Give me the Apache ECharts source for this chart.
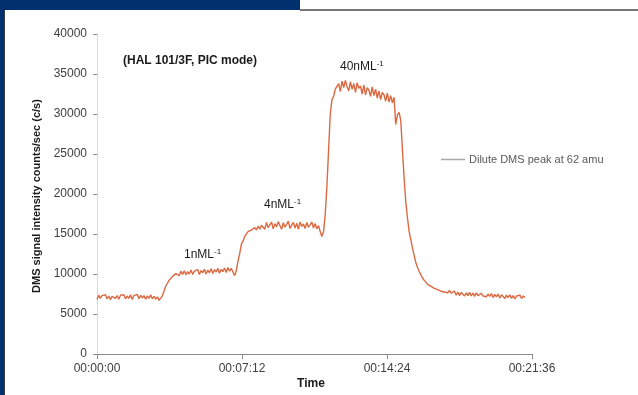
<!DOCTYPE html>
<html>
<head>
<meta charset="utf-8">
<script src="https://cdn.jsdelivr.net/npm/echarts@6/dist/echarts.min.js"></script>
<style>
html,body{margin:0;padding:0;background:#fff;}
#chart{width:638px;height:395px;}
</style>
</head>
<body>
<div id="chart"></div>
<script>
// sample interval of the recorded trace, seconds
var sampleStep = 5;
// x-axis ticks (seconds)
var xTicks = [0, 432, 864, 1296];
var yTicks = [0, 5000, 10000, 15000, 20000, 25000, 30000, 35000, 40000];
var seriesName = 'Dilute DMS peak at 62 amu';

// t = 0 .. 180 s : background
var baseline = [6850,7350,6950,7300,7050,7400,6900,7250,6800,7200,7450,6950,7300,6850,7350,7100,7400,6900,7250,6950,7400,6800,7300,7050,7450,6900,7350,7000,7300,6850,7250,6950,7400,6900,7200,6850,7150];
// t = 185 .. 410 s : 1 nM/L
var step1 = [6700,6600,7300,7900,8500,8700,9200,9300,9700,9750,10050,9950,
  9800,10350,9950,10400,9900,10300,10000,10500,9950,10350,10100,10550,9950,10450,10150,10600,10000,10500,10150,10650,10050,10550,10250,10700,10100,10600,10300,10750,10200,10800,10350,10700,
  10250,9800];
// t = 415 .. 675 s : 4 nM/L
var step2 = [10400,11600,12500,13700,14100,14700,14800,15300,15100,15500,15300,15800,15500,16000,15600,16100,
  16300,15600,16450,15800,16150,16500,15650,16300,15900,16550,16050,15600,16400,15850,16200,16600,15700,16100,16450,15750,16350,15600,16500,15950,16250,15700,16450,15850,16150,16500,15750,16300,15650,16050,
  15300,14700,15300];
// t = 680 .. 905 s : 40 nM/L
var step3 = [17500,21000,25500,30000,31800,32200,33100,33000,33800,32800,34100,33300,34200,33400,
  32900,34000,33100,33800,32700,33900,33200,33500,32500,33600,32400,33300,33000,32200,33400,32300,33100,32000,32900,31800,32700,32400,31600,32600,31500,32300,31400,32100,
  28700,29900,30200,29200];
// t = 910 .. 1275 s : wash-out
var decay = [25500,22000,19000,17000,15300,14300,13200,12300,11400,10800,10300,9900,9500,9200,9100,8700,8700,8450,8450,8200,8300,8050,8150,7850,8100,7750,8000,7650,7950,7600,
  7450,7850,7350,7750,7300,7700,7500,7250,7650,7300,
  7700,7250,7600,7200,7650,7300,7150,7600,7250,7500,
  7150,7500,7200,7550,7050,7450,7150,7500,7000,7400,
  7200,6950,7350,7050,7400,6950,7300,6900,7250,7000,
  7350,6950,7250,7050];

var signal = baseline.concat(step1, step2, step3, decay);
var seriesData = signal.map(function(v, i){ return [i * sampleStep, v]; });

function hms(s){
  var h = Math.floor(s/3600), m = Math.floor((s%3600)/60), sec = Math.round(s%60);
  function p(n){ return (n<10?'0':'') + n; }
  return p(h)+':'+p(m)+':'+p(sec);
}

var FONT = '"Liberation Sans", Arial, sans-serif';
var chart = echarts.init(document.getElementById('chart'), null, {renderer:'canvas'});
var sup = function(t){
  return {text:'{a|'+t+'}{s|-1}', rich:{a:{font:'12px '+FONT, fill:'#1a1a1a'}, s:{font:'8px '+FONT, fill:'#1a1a1a', verticalAlign:'top', padding:[0,0,6,0]}}};
};
chart.setOption({
  animation:false,
  backgroundColor:'#ffffff',
  textStyle:{fontFamily:FONT},
  grid:{left:97, right:106, top:34, bottom:41, containLabel:false},
  xAxis:{
    type:'value', min:xTicks[0], max:xTicks[xTicks.length-1], interval:432,
    axisLine:{show:true, lineStyle:{color:'#8c8c8c', width:1}},
    axisTick:{show:true, length:5, lineStyle:{color:'#8c8c8c'}},
    axisLabel:{color:'#404040', fontSize:12, margin:9, fontFamily:FONT, formatter:function(v){ return hms(v); }},
    splitLine:{show:false}
  },
  yAxis:{
    type:'value', min:yTicks[0], max:yTicks[yTicks.length-1], interval:5000,
    axisLine:{show:true, lineStyle:{color:'#d9d9d9', width:1}},
    axisTick:{show:true, length:4, lineStyle:{color:'#8c8c8c'}},
    axisLabel:{color:'#404040', fontSize:12, margin:10, fontFamily:FONT, formatter:function(v){ return String(v); }},
    splitLine:{show:false}
  },
  legend:{
    show:true, left:441, top:154, padding:0, orient:'vertical',
    icon:'rect', itemWidth:24, itemHeight:1.5, itemGap:0,
    itemStyle:{color:'#a6a6a6'},
    textStyle:{color:'#595959', fontSize:11, fontFamily:FONT, padding:[0,0,0,-1]},
    data:[{name:seriesName, itemStyle:{color:'#a6a6a6'}}]
  },
  series:[{
    name:seriesName, type:'line', data:seriesData, showSymbol:false, symbol:'none',
    lineStyle:{color:'#dc6941', width:1.4},
    itemStyle:{color:'#dc6941'}
  }],
  graphic:[
    {type:'rect', shape:{x:0,y:0,width:300,height:10}, style:{fill:'#00306e'}, silent:true},
    {type:'rect', shape:{x:0,y:0,width:4,height:395}, style:{fill:'#00306e'}, silent:true},
    {type:'rect', shape:{x:4,y:10,width:1,height:385}, style:{fill:'#3a3a3a'}, silent:true},
    {type:'rect', shape:{x:300,y:9,width:338,height:2}, style:{fill:'#777777'}, silent:true},
    {type:'text', left:123, top:55, style:{text:'(HAL 101/3F, PIC mode)', font:'bold 12px '+FONT, fill:'#1a1a1a'}},
    {type:'text', left:340, top:60, style:sup('40nML')},
    {type:'text', left:264, top:198, style:sup('4nML')},
    {type:'text', left:184, top:248, style:sup('1nML')},
    {type:'text', x:37, y:196, rotation:Math.PI/2, style:{text:'DMS signal intensity counts/sec (c/s)', font:'bold 11px '+FONT, fill:'#1a1a1a', align:'center', verticalAlign:'middle'}},
    {type:'text', x:311, y:384, style:{text:'Time', font:'bold 12px '+FONT, fill:'#1a1a1a', align:'center', verticalAlign:'middle'}}
  ]
});
</script>
</body>
</html>
